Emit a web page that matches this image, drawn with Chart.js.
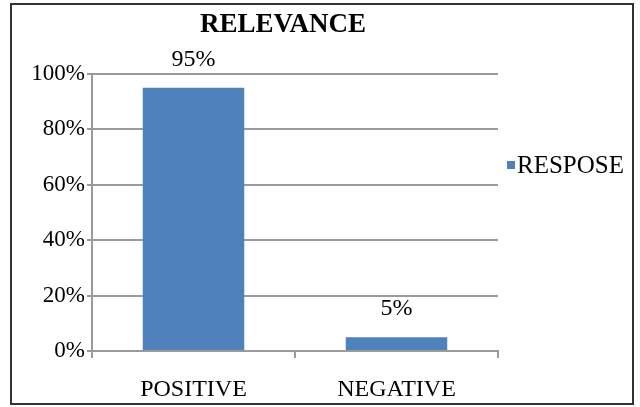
<!DOCTYPE html>
<html>
<head>
<meta charset="utf-8">
<script src="https://cdn.jsdelivr.net/npm/chart.js@4.4.0/dist/chart.umd.min.js"></script>
<style>
  html, body { margin: 0; padding: 0; background: #fff; }
</style>
</head>
<body>
<canvas id="relevanceChart" width="640" height="407"></canvas>
<script>
const categories = ['POSITIVE', 'NEGATIVE'];
const responses = [95, 5];
const seriesName = 'RESPOSE';
const chartTitle = 'RELEVANCE';
const yTickStep = 20;
const yMax = 100;

const serif = "'Liberation Serif', 'Times New Roman', serif";
const lineGray = '#9a9a9a';

// frame, title, value labels and legend drawn on top of the chart
const decorations = {
  id: 'decorations',
  afterDraw(chart) {
    const ctx = chart.ctx;
    const area = chart.chartArea;
    ctx.save();
    ctx.strokeStyle = '#333';
    ctx.lineWidth = 2;
    ctx.strokeRect(11, 4, 622, 400);

    ctx.fillStyle = '#000';
    ctx.font = 'bold 27px ' + serif;
    ctx.textAlign = 'center';
    ctx.textBaseline = 'middle';
    ctx.fillText(chartTitle, 283, 25);

    ctx.font = '24px ' + serif;
    const meta = chart.getDatasetMeta(0);
    meta.data.forEach((bar, i) => {
      ctx.fillText(responses[i] + '%', bar.x, bar.y - 28);
    });

    ctx.fillStyle = chart.data.datasets[0].backgroundColor;
    ctx.fillRect(area.right + 9, 161, 8, 8);
    ctx.fillStyle = '#000';
    ctx.textAlign = 'left';
    ctx.font = '25px ' + serif;
    ctx.fillText(seriesName, area.right + 19, 166);
    ctx.restore();
  }
};

const ctx = document.getElementById('relevanceChart').getContext('2d');
new Chart(ctx, {
  type: 'bar',
  data: {
    labels: categories,
    datasets: [{
      label: seriesName,
      data: responses,
      backgroundColor: '#4F81BD',
      categoryPercentage: 1,
      barPercentage: 0.5
    }]
  },
  options: {
    responsive: false,
    animation: false,
    devicePixelRatio: 1,
    layout: {
      padding: { top: 74, right: 142, bottom: 0, left: 0 }
    },
    plugins: {
      legend: { display: false },
      tooltip: { enabled: false }
    },
    scales: {
      x: {
        afterFit(scale) { scale.height = 56; },
        grid: {
          drawOnChartArea: false,
          drawTicks: true,
          tickLength: 7,
          lineWidth: 2,
          color: lineGray
        },
        border: { color: lineGray, width: 2 },
        ticks: {
          color: '#000',
          padding: 17,
          font: { family: serif, size: 24 }
        }
      },
      y: {
        min: 0,
        max: yMax,
        afterFit(scale) { scale.width = 92; },
        grid: {
          color: lineGray,
          lineWidth: 2,
          tickLength: 5
        },
        border: { color: lineGray, width: 2 },
        ticks: {
          stepSize: yTickStep,
          color: '#000',
          padding: 2,
          font: { family: serif, size: 23 },
          callback: v => v + '%'
        }
      }
    }
  },
  plugins: [decorations]
});
</script>
</body>
</html>
